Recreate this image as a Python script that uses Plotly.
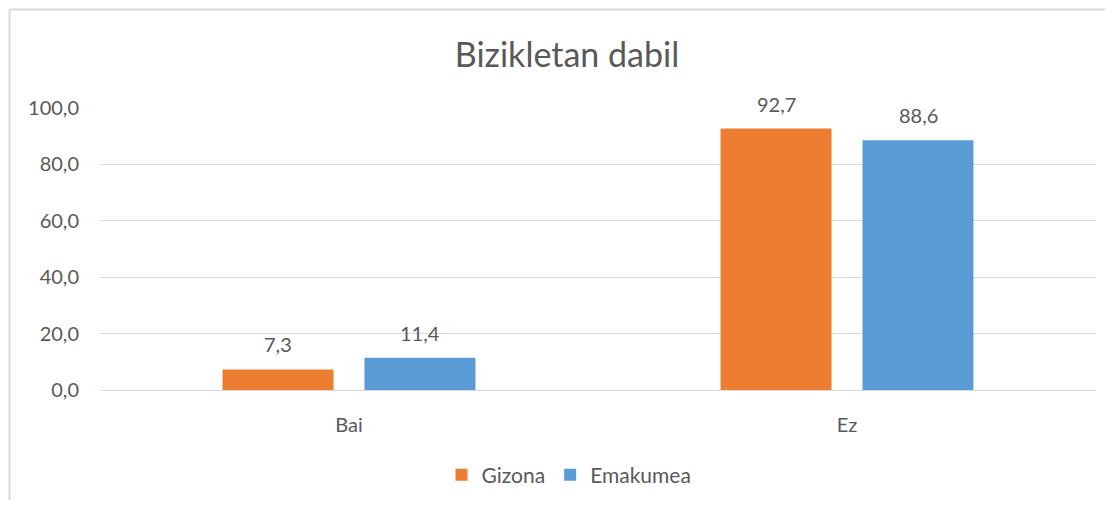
import plotly.graph_objects as go

categories = ["Bai", "Ez"]
gizona = [7.3, 92.7]
emakumea = [11.4, 88.6]
series_names = ["Gizona", "Emakumea"]
colors = ["#ED7D31", "#5B9BD5"]
y_ticks = [0, 20, 40, 60, 80, 100]

FONT = "Lato"
TXT = "#595959"
OFF = 8  # page body margin
W, H = 1113 - 2 * OFF, 508 - 2 * OFF

fig = go.Figure()
for name, vals, col in zip(series_names, [gizona, emakumea], colors):
    fig.add_trace(go.Bar(x=categories, y=vals, name=name, marker_color=col,
                         marker_line_width=0, cliponaxis=False))

annotations = []
for vals, shift in zip([gizona, emakumea], [-71, 71]):
    for c, v in zip(categories, vals):
        annotations.append(dict(x=c, y=v, xref="x", yref="y",
                                text=f"{v:.1f}".replace(".", ","),
                                showarrow=False, xshift=shift, yshift=11,
                                yanchor="bottom",
                                font=dict(family=FONT, size=20, color=TXT)))

bx0 = (9.5 - 100) / 996
bx1 = (1200 - 100) / 996
by0 = (390 - 600) / 282
by1 = (390 - 9.5) / 282
border = dict(color="#D9D9D9", width=2)

fig.update_layout(
    width=W, height=H,
    margin=dict(l=100 - OFF, r=W - (1096 - OFF), t=108 - OFF, b=H - (390 - OFF)),
    paper_bgcolor="white", plot_bgcolor="white",
    separators=",.",
    barmode="group", bargap=0.43, bargroupgap=0.218,
    title=dict(text="Bizikletan dabil", x=(567 - OFF) / W, xref="container", xanchor="center",
               y=1 - (55 - OFF) / H, yref="container", yanchor="middle",
               font=dict(family=FONT, size=34, color=TXT)),
    font=dict(family=FONT, size=20, color=TXT),
    legend=dict(orientation="h", x=(569 - OFF) / W, xref="container", xanchor="center",
                y=1 - (475 - OFF) / H, yref="container", yanchor="middle",
                font=dict(family=FONT, size=21, color=TXT),
                itemwidth=30, traceorder="normal"),
    xaxis=dict(showgrid=False, showline=False, ticks="outside", ticklen=0,
               ticklabelstandoff=17, tickfont=dict(family=FONT, size=20, color=TXT)),
    yaxis=dict(range=[0, 100], tickvals=y_ticks, tickformat=".1f",
               showgrid=True, gridcolor="#D9D9D9", gridwidth=1,
               zeroline=True, zerolinecolor="#D9D9D9", zerolinewidth=1,
               showline=False, ticklabelstandoff=20,
               tickfont=dict(family=FONT, size=20, color=TXT)),
    annotations=annotations,
    shapes=[
        dict(type="line", xref="paper", yref="paper", x0=bx0, x1=bx0, y0=by0, y1=by1,
             line=border, layer="below"),
        dict(type="line", xref="paper", yref="paper", x0=bx0, x1=bx1, y0=by1, y1=by1,
             line=border, layer="below"),
    ],
)

fig.write_html("out.html")
